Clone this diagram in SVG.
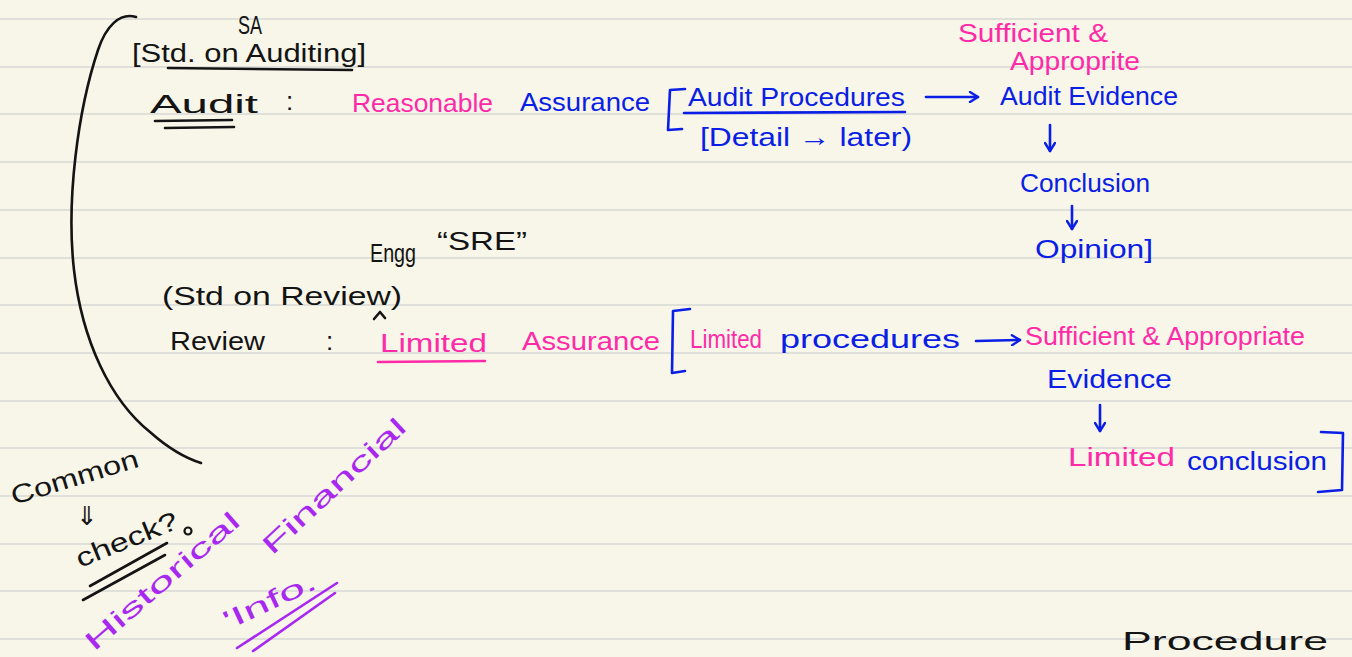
<svg xmlns="http://www.w3.org/2000/svg" width="1352" height="657" viewBox="0 0 1352 657">
  <defs>
    <style>
      .t { font-family: "Liberation Sans", "DejaVu Sans", sans-serif; font-size: 26px; }
      .k { fill: #141414; }
      .p { fill: #ff2aa8; }
      .b { fill: #0a1ee6; }
      .v { fill: #a928f0; }
      .ink { fill: none; stroke-width: 2.6; stroke-linecap: round; stroke-linejoin: round; }
      .sk { stroke: #141414; }
      .sp { stroke: #ff2aa8; }
      .sb { stroke: #0a1ee6; }
      .sv { stroke: #a928f0; }
      .rule { stroke: #d9d9d6; stroke-width: 1.5; }
    </style>
    <marker id="headB" viewBox="0 0 12 12" refX="10" refY="6" markerWidth="12" markerHeight="12" markerUnits="userSpaceOnUse" orient="auto">
      <path d="M2,1 L10,6 L2,11" fill="none" stroke="#0a1ee6" stroke-width="2.4" stroke-linecap="round" stroke-linejoin="round"/>
    </marker>
  </defs>

  <!-- paper -->
  <rect width="1352" height="657" fill="#f8f6e9"/>
  <g id="ruling">
    <line class="rule" x1="0" y1="19" x2="1352" y2="19"/>
    <line class="rule" x1="0" y1="67" x2="1352" y2="67"/>
    <line class="rule" x1="0" y1="114" x2="1352" y2="114"/>
    <line class="rule" x1="0" y1="162" x2="1352" y2="162"/>
    <line class="rule" x1="0" y1="210" x2="1352" y2="210"/>
    <line class="rule" x1="0" y1="258" x2="1352" y2="258"/>
    <line class="rule" x1="0" y1="305" x2="1352" y2="305"/>
    <line class="rule" x1="0" y1="353" x2="1352" y2="353"/>
    <line class="rule" x1="0" y1="401" x2="1352" y2="401"/>
    <line class="rule" x1="0" y1="448" x2="1352" y2="448"/>
    <line class="rule" x1="0" y1="496" x2="1352" y2="496"/>
    <line class="rule" x1="0" y1="544" x2="1352" y2="544"/>
    <line class="rule" x1="0" y1="591" x2="1352" y2="591"/>
    <line class="rule" x1="0" y1="639" x2="1352" y2="639"/>
  </g>

  <!-- connectors: arrows, brackets, underlines -->
  <g id="connectors">
    <!-- big grouping curve on the left -->
    <path class="ink sk" d="M136,17 C120,12 106,26 98,50 C78,110 66,200 74,270 C82,340 110,400 150,432 C168,448 185,458 201,463"/>
    <!-- underline of Std. on Auditing -->
    <path class="ink sk" d="M168,68 L352,70"/>
    <!-- double underline of Audit -->
    <path class="ink sk" d="M155,121 L232,120"/>
    <path class="ink sk" d="M165,128 L234,127"/>
    <!-- underline of Audit Procedures -->
    <path class="ink sb" d="M684,113 L905,112"/>
    <!-- bracket before Audit Procedures -->
    <path class="ink sb" d="M685,89 L670,90 L668,130 L682,129"/>
    <!-- Audit Procedures -> Audit Evidence -->
    <line class="ink sb" x1="926" y1="97" x2="978" y2="97" marker-end="url(#headB)"/>
    <!-- Audit Evidence -> Conclusion -->
    <line class="ink sb" x1="1050" y1="125" x2="1050" y2="151" marker-end="url(#headB)"/>
    <!-- Conclusion -> Opinion -->
    <line class="ink sb" x1="1072" y1="206" x2="1072" y2="229" marker-end="url(#headB)"/>
    <!-- caret under Review -->
    <path class="ink sk" d="M374,319 L380,312 L385,318"/>
    <!-- underline of Limited -->
    <path class="ink sp" d="M378,362 L485,361"/>
    <!-- bracket before Limited procedures -->
    <path class="ink sb" d="M690,309 L673,311 L672,373 L685,371"/>
    <!-- Limited procedures -> Sufficient & Appropriate -->
    <line class="ink sb" x1="976" y1="341" x2="1020" y2="340" marker-end="url(#headB)"/>
    <!-- Evidence -> Limited conclusion -->
    <line class="ink sb" x1="1100" y1="405" x2="1100" y2="431" marker-end="url(#headB)"/>
    <!-- closing bracket after conclusion -->
    <path class="ink sb" d="M1321,432 L1343,433 L1342,490 L1318,492"/>
    <!-- double underline of check -->
    <path class="ink sk" d="M90,586 L167,543"/>
    <path class="ink sk" d="M83,600 L165,555"/>
    <!-- double underline of Info -->
    <path class="ink sv" d="M237,648 L337,583"/>
    <path class="ink sv" d="M253,651 L335,593"/>
  </g>

  <g id="audit-standard">
    <text class="t k" x="238" y="34" font-size="18" textLength="24" lengthAdjust="spacingAndGlyphs">SA</text>
    <text class="t k" x="132" y="62" textLength="234" lengthAdjust="spacingAndGlyphs">[Std. on Auditing]</text>
  </g>

  <g id="audit">
    <text class="t k" x="150" y="113" font-size="38" textLength="108" lengthAdjust="spacingAndGlyphs">Audit</text>
    <text class="t k" x="286" y="110">:</text>
  </g>

  <g id="reasonable-assurance">
    <text class="t p" x="352" y="112" font-size="30" textLength="141" lengthAdjust="spacingAndGlyphs">Reasonable</text>
    <text class="t b" x="520" y="111" font-size="30" textLength="130" lengthAdjust="spacingAndGlyphs">Assurance</text>
  </g>

  <g id="audit-procedures">
    <text class="t b" x="688" y="106" font-size="28" textLength="217" lengthAdjust="spacingAndGlyphs">Audit Procedures</text>
    <text class="t b" x="700" y="146" font-size="22" textLength="212" lengthAdjust="spacingAndGlyphs">[Detail → later)</text>
  </g>

  <g id="audit-evidence">
    <text class="t p" x="958" y="42" textLength="150" lengthAdjust="spacingAndGlyphs">Sufficient &amp;</text>
    <text class="t p" x="1010" y="70" textLength="130" lengthAdjust="spacingAndGlyphs">Approprite</text>
    <text class="t b" x="1000" y="105" textLength="178" lengthAdjust="spacingAndGlyphs">Audit Evidence</text>
  </g>

  <g id="conclusion">
    <text class="t b" x="1020" y="192" textLength="130" lengthAdjust="spacingAndGlyphs">Conclusion</text>
  </g>

  <g id="opinion">
    <text class="t b" x="1035" y="258" font-size="28" textLength="118" lengthAdjust="spacingAndGlyphs">Opinion]</text>
  </g>

  <g id="review-standard">
    <text class="t k" x="370" y="262" font-size="34" textLength="46" lengthAdjust="spacingAndGlyphs">Engg</text>
    <text class="t k" x="437" y="250" textLength="90" lengthAdjust="spacingAndGlyphs">“SRE”</text>
    <text class="t k" x="162" y="305" textLength="240" lengthAdjust="spacingAndGlyphs">(Std on Review)</text>
  </g>

  <g id="review">
    <text class="t k" x="170" y="350" font-size="28" textLength="95" lengthAdjust="spacingAndGlyphs">Review</text>
    <text class="t k" x="326" y="350">:</text>
  </g>

  <g id="limited-assurance">
    <text class="t p" x="380" y="352" textLength="107" lengthAdjust="spacingAndGlyphs">Limited</text>
    <text class="t p" x="522" y="350" textLength="138" lengthAdjust="spacingAndGlyphs">Assurance</text>
  </g>

  <g id="limited-procedures">
    <text class="t p" x="690" y="348" textLength="72" lengthAdjust="spacingAndGlyphs">Limited</text>
    <text class="t b" x="780" y="348" font-size="28" textLength="180" lengthAdjust="spacingAndGlyphs">procedures</text>
  </g>

  <g id="review-evidence">
    <text class="t p" x="1025" y="345" textLength="280" lengthAdjust="spacingAndGlyphs">Sufficient &amp; Appropriate</text>
    <text class="t b" x="1047" y="388" textLength="125" lengthAdjust="spacingAndGlyphs">Evidence</text>
  </g>

  <g id="limited-conclusion">
    <text class="t p" x="1068" y="466" textLength="107" lengthAdjust="spacingAndGlyphs">Limited</text>
    <text class="t b" x="1187" y="470" font-size="28" textLength="140" lengthAdjust="spacingAndGlyphs">conclusion</text>
  </g>

  <g id="common-check">
    <text class="t k" transform="translate(14,505) rotate(-17)" font-size="28" textLength="132" lengthAdjust="spacingAndGlyphs">Common</text>
    <text class="t k" x="76" y="525" font-size="26">⇓</text>
    <text class="t k" transform="translate(80,568) rotate(-22)" font-size="30" textLength="108" lengthAdjust="spacingAndGlyphs">check?</text>
    <circle cx="188" cy="531" r="3.5" fill="none" stroke="#141414" stroke-width="2.2"/>
  </g>

  <g id="historical-financial-info">
    <text class="t v" transform="translate(94,652) rotate(-41)" font-size="32" textLength="196" lengthAdjust="spacingAndGlyphs">Historical</text>
    <text class="t v" transform="translate(272,556) rotate(-43)" font-size="32" textLength="186" lengthAdjust="spacingAndGlyphs">Financial</text>
    <text class="t v" transform="translate(228,630) rotate(-25)" font-size="38" textLength="100" lengthAdjust="spacingAndGlyphs">'Info.</text>
  </g>

  <g id="procedure">
    <text class="t k" x="1122" y="650" font-size="30" textLength="206" lengthAdjust="spacingAndGlyphs">Procedure</text>
  </g>
</svg>
